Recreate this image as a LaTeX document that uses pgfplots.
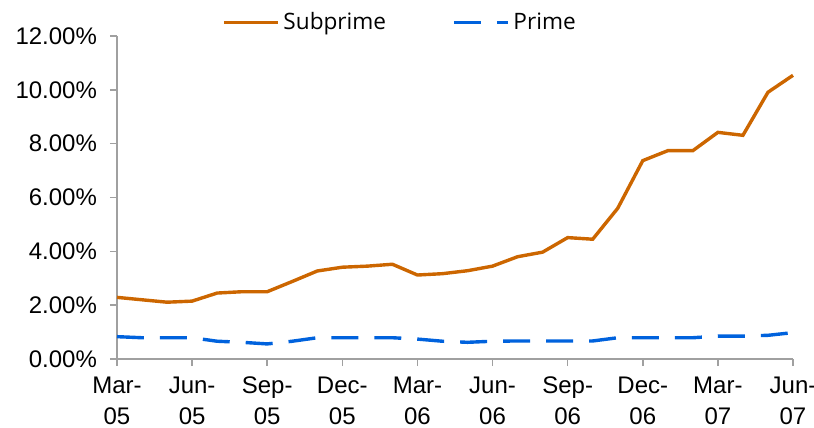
\documentclass[border=0pt]{standalone}
\usepackage{pgfplots}
\pgfplotsset{compat=1.18}
\usepackage{fontspec}
\setmainfont{Liberation Sans}
\newfontfamily\legfont{Open Sans}
\definecolor{subc}{RGB}{204,102,0}
\definecolor{primec}{RGB}{0,98,221}
\definecolor{axgray}{RGB}{160,160,160}
\begin{document}
\begin{tikzpicture}
\begin{axis}[
  scale only axis,
  width=338pt, height=161.5pt,
  xmin=0, xmax=27, ymin=0, ymax=12,
  axis x line=bottom, axis y line=left,
  axis line style={-, axgray, line width=0.8pt},
  tick align=outside,
  major tick length=3.5pt,
  every tick/.style={axgray, line width=0.8pt},
  xtick={0,3,...,27},
  xticklabels={{Mar-\\05},{Jun-\\05},{Sep-\\05},{Dec-\\05},{Mar-\\06},{Jun-\\06},{Sep-\\06},{Dec-\\06},{Mar-\\07},{Jun-\\07}},
  xticklabel style={align=center, font=\fontsize{12}{15.5}\selectfont, yshift=-2pt},
  ytick={0,2,...,12},
  yticklabels={0.00\%,2.00\%,4.00\%,6.00\%,8.00\%,10.00\%,12.00\%},
  yticklabel style={font=\fontsize{12}{15}\selectfont, xshift=-3pt},
  legend style={draw=none, fill=none, at={(0.42,1)}, anchor=south, yshift=-2.5pt,
    font=\legfont\fontsize{11.3}{14}\selectfont, legend columns=2,
    /tikz/every even column/.append style={column sep=31pt}},
  legend image code/.code={\draw[#1] (0pt,0pt) -- (27pt,0pt);},
  clip=false,
]
\addplot[subc, line width=1.7pt] coordinates {
(0,2.29) (1,2.20) (2,2.11) (3,2.15) (4,2.45) (5,2.50) (6,2.50) (7,2.88)
(8,3.27) (9,3.41) (10,3.45) (11,3.52) (12,3.12) (13,3.17) (14,3.28) (15,3.45)
(16,3.80) (17,3.97) (18,4.51) (19,4.45) (20,5.60) (21,7.37) (22,7.74) (23,7.74)
(24,8.42) (25,8.31) (26,9.91) (27,10.54)
};
\addlegendentry{Subprime}
\addplot[primec, line width=1.7pt, dash pattern=on 13.5pt off 8pt] coordinates {
(0,0.83) (1,0.79) (2,0.79) (3,0.79) (4,0.66) (5,0.62) (6,0.56) (7,0.66)
(8,0.79) (9,0.79) (10,0.79) (11,0.79) (12,0.74) (13,0.66) (14,0.62) (15,0.66)
(16,0.67) (17,0.67) (18,0.67) (19,0.67) (20,0.79) (21,0.79) (22,0.79) (23,0.79)
(24,0.85) (25,0.85) (26,0.88) (27,0.98)
};
\addlegendentry{Prime}
\end{axis}
\pgfresetboundingbox
\path[use as bounding box] (-58.5pt,-34.5pt) rectangle (348.5pt,179.5pt);
\end{tikzpicture}
\end{document}
